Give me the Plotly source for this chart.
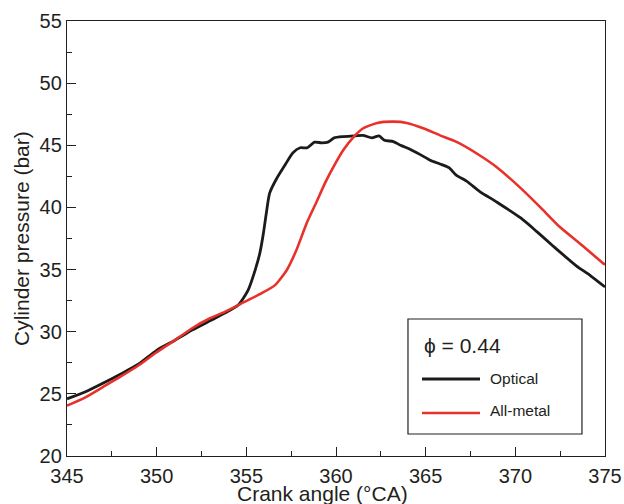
import plotly.graph_objects as go

# Optical engine (black)
optical_x = [345.0, 346.0, 347.0, 348.0, 349.0, 350.0, 351.0, 352.0, 353.0, 353.8,
             354.55, 355.1, 355.5, 355.75, 355.95, 356.14, 356.3, 356.7, 357.15, 357.6,
             358.0, 358.4, 358.8, 359.2, 359.55, 359.9, 360.4, 361.06, 361.5, 362.0,
             362.4, 362.7, 363.2, 363.6, 364.1, 364.7, 365.25, 365.8, 366.3, 366.7,
             367.3, 368.0, 369.0, 370.3, 371.2, 372.1, 373.4, 374.2, 375.0]
optical_y = [24.6, 25.15, 25.85, 26.6, 27.4, 28.5, 29.3, 30.15, 30.9, 31.5,
             32.15, 33.35, 35.0, 36.3, 37.9, 39.8, 41.15, 42.35, 43.4, 44.4,
             44.8, 44.8, 45.25, 45.2, 45.25, 45.6, 45.7, 45.75, 45.8, 45.6,
             45.75, 45.4, 45.3, 45.0, 44.7, 44.25, 43.8, 43.5, 43.2, 42.6,
             42.1, 41.3, 40.4, 39.15, 38.05, 36.9, 35.3, 34.5, 33.6]

# All-metal engine (red)
metal_x = [345.0, 346.0, 347.0, 348.0, 349.0, 350.0, 351.0, 352.0, 353.0, 353.8,
           354.9, 355.86, 356.6, 357.25, 357.8, 358.37, 358.9, 359.4, 359.95, 360.4,
           361.0, 361.5, 362.3, 363.2, 363.95, 364.9, 365.8, 366.75, 368.0, 369.0,
           370.3, 371.4, 372.5, 373.6, 374.9, 375.0]
metal_y = [24.05, 24.7, 25.55, 26.4, 27.3, 28.35, 29.3, 30.3, 31.1, 31.6,
           32.4, 33.1, 33.75, 34.95, 36.6, 38.75, 40.4, 42.0, 43.5, 44.6,
           45.7, 46.35, 46.8, 46.9, 46.8, 46.35, 45.8, 45.25, 44.2, 43.2,
           41.55, 40.0, 38.4, 37.1, 35.5, 35.4]

x_ticks = [345, 350, 355, 360, 365, 370, 375]
y_ticks = [20, 25, 30, 35, 40, 45, 50, 55]

BLACK = "#1c1a1b"
RED = "#e8312b"
AX = "#231f20"
FONT = "Liberation Sans, Arial, Helvetica, sans-serif"

fig = go.Figure()
fig.add_trace(go.Scatter(x=optical_x, y=optical_y, mode="lines", name="Optical",
                         line=dict(color=BLACK, width=2.8, shape="spline", smoothing=0.6),
                         showlegend=False))
fig.add_trace(go.Scatter(x=metal_x, y=metal_y, mode="lines", name="All-metal",
                         line=dict(color=RED, width=2.6, shape="spline", smoothing=0.6),
                         showlegend=False))

axis_common = dict(showline=True, linecolor=AX, linewidth=1.3, mirror=True,
                   ticks="inside", ticklen=9, tickwidth=1.2, tickcolor=AX,
                   showgrid=False, zeroline=False, automargin=False,
                   tickfont=dict(family=FONT, size=20, color=AX),
                   minor=dict(ticks="inside", ticklen=5, tickwidth=1.2, tickcolor=AX))

fig.update_xaxes(range=[345, 375], tickvals=x_ticks, ticktext=[str(v) for v in x_ticks],
                 minor_dtick=2.5, minor_tick0=345, ticklabelstandoff=2, **axis_common)
fig.update_yaxes(range=[20, 55], tickvals=y_ticks, ticktext=[str(v) for v in y_ticks],
                 minor_dtick=2.5, minor_tick0=20, **axis_common)

# Legend box drawn manually (paper coordinates)
fig.add_shape(type="rect", xref="paper", yref="paper", x0=0.6338, x1=0.9572, y0=0.0506, y1=0.3149,
              line=dict(color=AX, width=1.2), fillcolor="white")
fig.add_shape(type="line", xref="paper", yref="paper", x0=0.6599, x1=0.7677, y0=0.1770, y1=0.1770,
              line=dict(color=BLACK, width=2.8))
fig.add_shape(type="line", xref="paper", yref="paper", x0=0.6599, x1=0.7677, y0=0.0989, y1=0.0989,
              line=dict(color=RED, width=2.6))

annotations = [
    dict(text="ϕ = 0.44", x=0.6593, y=0.2536, xanchor="left", yanchor="middle",
         font=dict(family=FONT, size=21, color=AX)),
    dict(text="Optical", x=0.7825, y=0.1790, xanchor="left", yanchor="middle",
         font=dict(family=FONT, size=15.5, color=AX)),
    dict(text="All-metal", x=0.7825, y=0.1040, xanchor="left", yanchor="middle",
         font=dict(family=FONT, size=15.5, color=AX)),
    dict(text="Cylinder pressure (bar)", x=-0.0836, y=0.4989, textangle=-90,
         xanchor="center", yanchor="middle", font=dict(family=FONT, size=21, color=AX)),
    dict(text="Crank angle (°CA)", x=0.474, y=-0.087, xanchor="center", yanchor="middle",
         font=dict(family=FONT, size=21, color=AX)),
]
for a in annotations:
    a.update(xref="paper", yref="paper", showarrow=False)
fig.update_layout(annotations=annotations)

fig.update_layout(width=624, height=504, margin=dict(l=67, r=19, t=21, b=48),
                  plot_bgcolor="white", paper_bgcolor="white",
                  font=dict(family=FONT, color=AX))

# remove the default page margin so the figure fills the window exactly
fig.write_html("out.html", config={"displayModeBar": False},
               post_script="document.body.style.margin='0';document.body.style.overflow='hidden';")
